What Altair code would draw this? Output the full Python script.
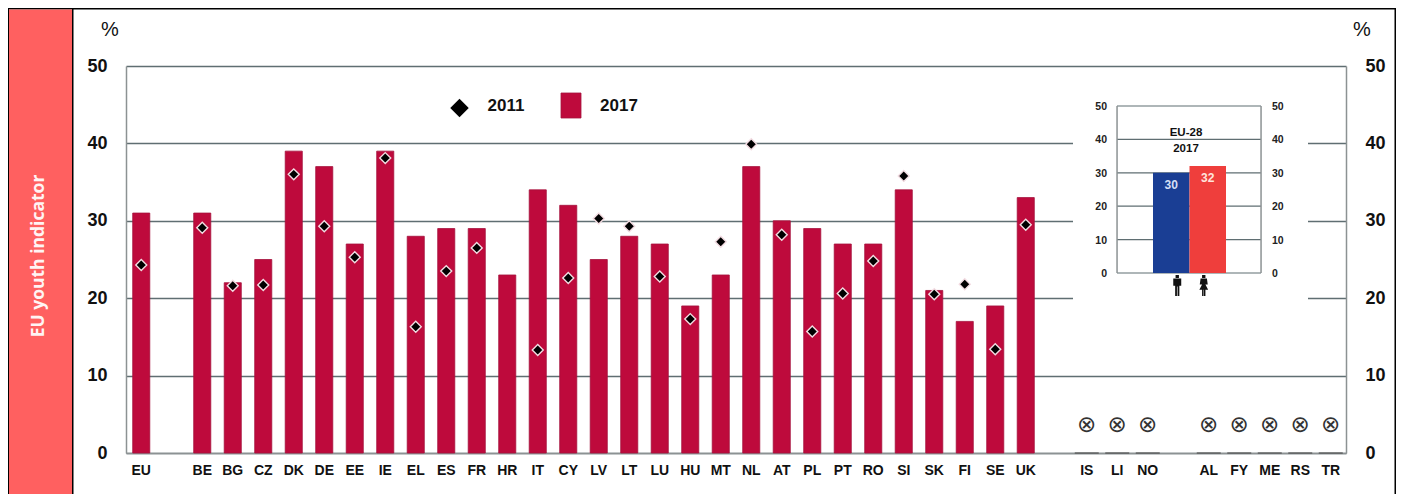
import altair as alt

# ---- data ----
countries = ["EU", "BE", "BG", "CZ", "DK", "DE", "EE", "IE", "EL", "ES", "FR", "HR", "IT", "CY", "LV",
             "LT", "LU", "HU", "MT", "NL", "AT", "PL", "PT", "RO", "SI", "SK", "FI", "SE", "UK"]
rate_2017 = [31, 31, 22, 25, 39, 37, 27, 39, 28, 29, 29, 23, 34, 32, 25,
             28, 27, 19, 23, 37, 30, 29, 27, 27, 34, 21, 17, 19, 33]
rate_2011 = [24.3, 29.1, 21.6, 21.7, 36.0, 29.3, 25.3, 38.1, 16.3, 23.5, 26.5, None, 13.3, 22.6, 30.3,
             29.3, 22.8, 17.3, 27.3, 39.9, 28.2, 15.7, 20.6, 24.8, 35.8, 20.5, 21.8, 13.4, 29.5]
no_data = ["IS", "LI", "NO", "AL", "FY", "ME", "RS", "TR"]
slots = (["EU", " "] + countries[1:] + ["  ", "IS", "LI", "NO", "   ", "AL", "FY", "ME", "RS", "TR"])
y_ticks = [0, 10, 20, 30, 40, 50]
inset_sex = ["Men", "Women"]
inset_val = [30, 32]
inset_col = ["#1A3E94", "#EF3E3C"]
inset_lab = ["#D5DFF5", "#FFE4DC"]

SANS = "Liberation Sans"
CRIMSON = "#BE0A3C"
EDGE = "#A5123C"
GRID = "#5F6E72"
FRAME = "#8C9293"

X0, Y0 = 126, 66          # page position of the plot's corner
def px(v): return v - X0
def py(v): return v - Y0

x_scale = alt.Scale(domain=slots, paddingInner=0.44, paddingOuter=0.22)
y_scale = alt.Scale(domain=[0, 50])
inset_y = alt.Scale(domain=[0, 50], range=[py(273), py(106)])
inset_x = alt.Scale(domain=inset_sex, range=[px(1153), px(1226)], paddingInner=0, paddingOuter=0)

def box(x1, x2, y1, y2, color, **kw):
    return alt.Chart().mark_rect(color=color, **kw).encode(
        x=alt.value(px(x1)), x2=alt.value(px(x2)), y=alt.value(py(y1)), y2=alt.value(py(y2)))

def label(x, y, text, **kw):
    opts = dict(font=SANS, fontWeight="bold", color="#111111", fontSize=14)
    opts.update(kw)
    return alt.Chart().mark_text(text=text, **opts).encode(x=alt.value(px(x)), y=alt.value(py(y)))

bars_data = alt.Data(values=[{"c": c, "v": v} for c, v in zip(countries, rate_2017)])
pts_data = alt.Data(values=[{"c": c, "v": v} for c, v in zip(countries, rate_2011) if v is not None])
nd_data = alt.Data(values=[{"c": c, "v": 0, "m": 3.65} for c in no_data])
inset_data = alt.Data(values=[{"s": s, "v": v, "col": k, "lab": l}
                              for s, v, k, l in zip(inset_sex, inset_val, inset_col, inset_lab)])
tick_data = alt.Data(values=[{"t": t} for t in y_ticks])

# main bars, carrying the left and bottom axes
bars = alt.Chart(bars_data).mark_bar(color=CRIMSON, stroke=EDGE, strokeWidth=0.8).encode(
    x=alt.X("c:N", sort=None, scale=x_scale, title=None,
            axis=alt.Axis(labelAngle=0, labelOverlap=False, ticks=False, domainColor=FRAME, domainWidth=1.5,
                          labelFont=SANS, labelFontWeight="bold", labelFontSize=14, labelColor="#111111",
                          labelPadding=10)),
    y=alt.Y("v:Q", scale=y_scale, title=None,
            axis=alt.Axis(values=y_ticks, ticks=False, domainColor=FRAME, domainWidth=1.5, grid=True,
                          gridColor=GRID, gridWidth=1.3, labelFont=SANS, labelFontWeight="bold",
                          labelFontSize=18, labelColor="#111111", labelPadding=19)),
)

# zero lines of the countries without data, carrying the right axis
zero = alt.Chart(nd_data).mark_tick(size=24, thickness=1.5, color="#444444").encode(
    x=alt.X("c:N", sort=None, scale=x_scale, axis=None),
    y=alt.Y("v:Q", scale=y_scale, title=None,
            axis=alt.Axis(orient="right", values=y_ticks, ticks=False, domainColor=FRAME, domainWidth=1.5,
                          grid=False, labelFont=SANS, labelFontWeight="bold", labelFontSize=18,
                          labelColor="#111111", labelPadding=19)),
)

marks_2011 = alt.Chart(pts_data).mark_point(shape="diamond", filled=True, fill="black", stroke="#F3DCE2",
                                            strokeWidth=1.4, size=120, opacity=1).encode(
    x=alt.X("c:N", sort=None, scale=x_scale, axis=None),
    y=alt.Y("v:Q", scale=y_scale, axis=None),
)

not_avail = alt.Chart(nd_data).mark_text(text="\u2297", font="DejaVu Sans", fontSize=23, color="#333333").encode(
    x=alt.X("c:N", sort=None, scale=x_scale, axis=None),
    y=alt.Y("m:Q", scale=y_scale, axis=None),
)

# inset
inset_grid = alt.Chart(tick_data).mark_rule(color=GRID, strokeWidth=1.2).encode(
    x=alt.value(px(1117)), x2=alt.value(px(1261)),
    y=alt.Y("t:Q", scale=inset_y, axis=None),
)
inset_left = alt.Chart(tick_data).mark_text(align="right", font=SANS, fontWeight="bold", fontSize=10.5,
                                            color="#222222", dy=1).encode(
    x=alt.value(px(1107)), y=alt.Y("t:Q", scale=inset_y, axis=None), text="t:Q")
inset_right = alt.Chart(tick_data).mark_text(align="left", font=SANS, fontWeight="bold", fontSize=10.5,
                                             color="#222222", dy=1).encode(
    x=alt.value(px(1272)), y=alt.Y("t:Q", scale=inset_y, axis=None), text="t:Q")
inset_bars = alt.Chart(inset_data).mark_bar(size=36.5).encode(
    x=alt.X("s:N", sort=None, scale=inset_x, axis=None),
    y=alt.Y("v:Q", scale=inset_y, axis=None),
    color=alt.Color("col:N", scale=None),
)
inset_vals = alt.Chart(inset_data).mark_text(font=SANS, fontWeight="bold", fontSize=12, baseline="middle", dy=12).encode(
    x=alt.X("s:N", sort=None, scale=inset_x, axis=None),
    y=alt.Y("v:Q", scale=inset_y, axis=None),
    text="v:Q",
    color=alt.Color("lab:N", scale=None),
)
MAN = ("M-0.16,-1 L0.16,-1 L0.16,-0.72 L-0.16,-0.72 Z "
       "M-0.38,-0.66 L0.38,-0.66 L0.38,0.02 L0.2,0.02 L0.2,1 L0.03,1 L0.03,0.1 L-0.03,0.1 L-0.03,1 L-0.2,1 "
       "L-0.2,0.02 L-0.38,0.02 Z")
WOMAN = ("M-0.16,-1 L0.16,-1 L0.16,-0.72 L-0.16,-0.72 Z "
         "M-0.3,-0.66 L0.3,-0.66 L0.38,-0.1 L0.16,-0.1 L0.42,0.4 L0.16,0.4 L0.16,1 L0.02,1 L0.02,0.4 L-0.02,0.4 "
         "L-0.02,1 L-0.16,1 L-0.16,0.4 L-0.42,0.4 L-0.16,-0.1 L-0.38,-0.1 Z")
icon_man = alt.Chart(alt.Data(values=[{"s": inset_sex[0]}])).mark_point(
    shape=MAN, filled=True, color="#111111", size=440, opacity=1, xOffset=6).encode(
    x=alt.X("s:N", sort=None, scale=inset_x, axis=None), y=alt.value(py(285.5)))
icon_woman = alt.Chart(alt.Data(values=[{"s": inset_sex[1]}])).mark_point(
    shape=WOMAN, filled=True, color="#111111", size=440, opacity=1, xOffset=-4).encode(
    x=alt.X("s:N", sort=None, scale=inset_x, axis=None), y=alt.value(py(285.5)))

layers = [
    box(1073, 1308, 85, 312, "white"),
    bars, zero, marks_2011, not_avail,
    inset_grid,
    box(1116.3, 1117.8, 106, 273, FRAME), box(1260.3, 1261.8, 106, 273, FRAME),
    inset_bars, inset_vals, inset_left, inset_right, icon_man, icon_woman,
    label(1186, 132.5, "EU-28", fontSize=11.5), label(1186, 148.5, "2017", fontSize=11.5),
    # legend
    alt.Chart().mark_point(shape="diamond", filled=True, color="black", size=340, opacity=1).encode(
        x=alt.value(px(459.5)), y=alt.value(py(108))),
    label(506, 106, "2011", fontSize=17),
    box(561, 581, 93, 118, CRIMSON, stroke=EDGE, strokeWidth=0.8),
    label(619, 106, "2017", fontSize=17),
    # page furniture
    box(8, 1396, 8, 9.5, "black"),
    box(1394.5, 1396, 8, 494, "black"),
    box(8, 9, 8, 494, "black"),
    box(9, 72, 9.5, 494, "#FF6060"),
    box(72, 73.5, 8, 494, "black"),
    alt.Chart().mark_text(text="EU youth indicator", font="Open Sans", fontWeight="bold", fontSize=17.5, color="#FFF4F4",
                          angle=270).encode(x=alt.value(px(39)), y=alt.value(py(256))),
    label(110, 29.5, "%", font=SANS, fontWeight="normal", fontSize=20),
    label(1362, 29.5, "%", font=SANS, fontWeight="normal", fontSize=20),
]

chart = alt.layer(*layers).resolve_scale(
    x="independent", y="independent", color="independent").properties(
    width=1220, height=387,
    autosize=alt.AutoSizeParams(type="none"),
    padding={"left": 118, "top": 58, "right": 50, "bottom": 41},
    background="white",
).configure_view(stroke=None)

chart.save("out.html", embed_options={"renderer": "svg", "actions": False})
